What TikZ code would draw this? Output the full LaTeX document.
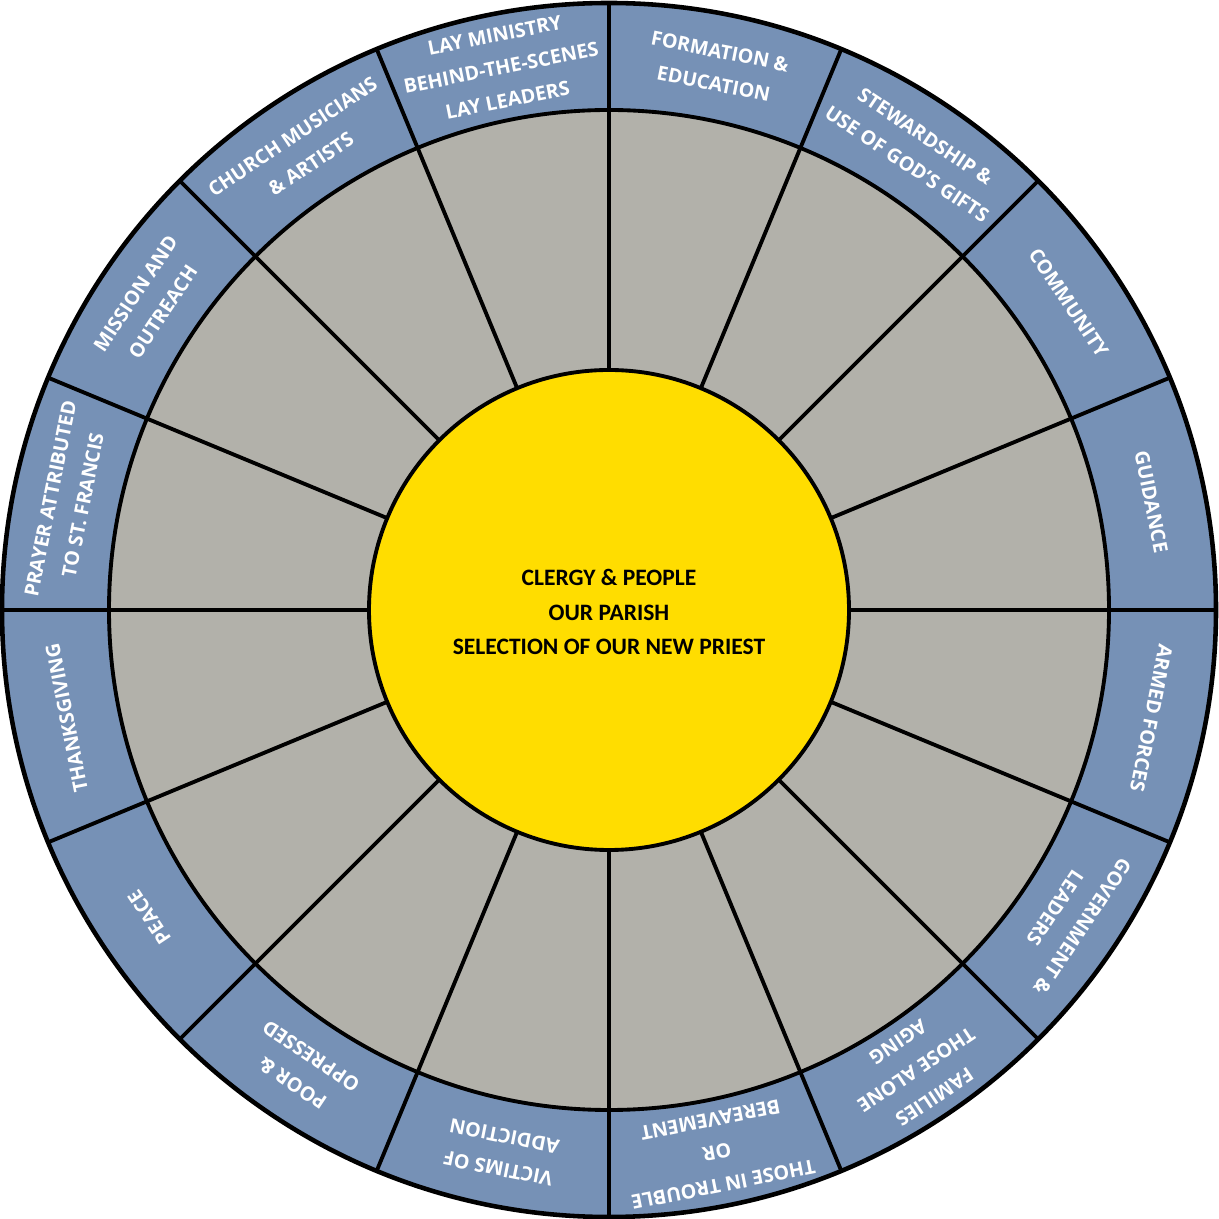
\documentclass[tikz,border=0pt]{standalone}
\usepackage{fontspec}
\setmainfont{Open Sans}
\newfontfamily\hubfont{Carlito}
\usetikzlibrary{positioning}

\definecolor{ringblue}{RGB}{118,145,182}
\definecolor{cellgray}{RGB}{178,177,170}
\definecolor{hubyellow}{RGB}{255,221,0}

\tikzset{
  ringlabel/.style={text=white, align=center, inner sep=0pt,
    font=\bfseries\fontsize{5.6}{9.4}\selectfont},
  hublabel/.style={align=center, inner sep=0pt,
    font=\hubfont\bfseries\fontsize{6.7}{9.9}\selectfont}
}

\begin{document}
\begin{tikzpicture}[line width=1.1pt]
  \useasboundingbox (-6.09,-6.09) rectangle (6.09,6.10);

  \fill[ringblue] (0,0) circle (6.07);
  \fill[cellgray] (0,0) circle (5.00);
  \foreach \a in {0,22.5,...,337.5}
    \draw (\a:2.40) -- (\a:6.07);
  \draw[line width=1.3pt] (0,0) circle (6.07);
  \draw (0,0) circle (5.00);
  \draw[fill=hubyellow] (0,0) circle (2.40);

  \node[hublabel] (hub) at (0,-0.02)
    {CLERGY \& PEOPLE\\OUR PARISH\\SELECTION OF OUR NEW PRIEST};

  \node[ringlabel, rotate=-11.25]  (formation) at (78.75:5.53)  {FORMATION \&\\EDUCATION};
  \node[ringlabel, rotate=-33.75]  (steward)   at (56.25:5.53)  {STEWARDSHIP \&\\USE OF GOD’S GIFTS};
  \node[ringlabel, rotate=-56.25]  (community) at (33.75:5.53)  {COMMUNITY};
  \node[ringlabel, rotate=-78.75]  (guidance)  at (11.25:5.53)  {GUIDANCE};
  \node[ringlabel, rotate=-101.25] (armed)     at (-11.25:5.53) {ARMED FORCES};
  \node[ringlabel, rotate=-123.75] (govern)    at (-33.75:5.53) {GOVERNMENT \&\\LEADERS};
  \node[ringlabel, rotate=-146.25] (families)  at (-56.25:5.53) {FAMILIES\\THOSE ALONE\\AGING};
  \node[ringlabel, rotate=-168.75] (trouble)   at (-78.75:5.53) {THOSE IN TROUBLE\\OR\\BEREAVEMENT};
  \node[ringlabel, rotate=168.75]  (victims)   at (-101.25:5.53) {VICTIMS OF\\ADDICTION};
  \node[ringlabel, rotate=146.25]  (poor)      at (-123.75:5.53) {POOR \&\\OPPRESSED};
  \node[ringlabel, rotate=123.75]  (peace)     at (-146.25:5.53) {PEACE};
  \node[ringlabel, rotate=101.25]  (thanks)    at (-168.75:5.53) {THANKSGIVING};
  \node[ringlabel, rotate=78.75]   (prayer)    at (168.75:5.53)  {PRAYER ATTRIBUTED\\TO ST. FRANCIS};
  \node[ringlabel, rotate=56.25]   (mission)   at (146.25:5.53)  {MISSION AND\\OUTREACH};
  \node[ringlabel, rotate=33.75]   (musicians) at (123.75:5.53)  {CHURCH MUSICIANS\\\& ARTISTS};
  \node[ringlabel, rotate=11.25]   (laymin)    at (101.25:5.53)  {LAY MINISTRY\\BEHIND-THE-SCENES\\LAY LEADERS};
\end{tikzpicture}
\end{document}
